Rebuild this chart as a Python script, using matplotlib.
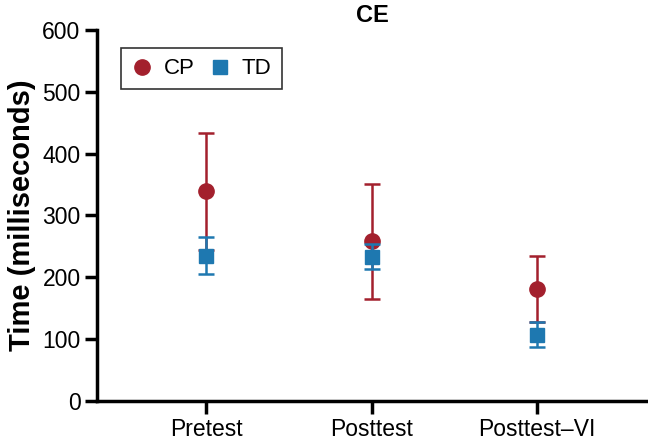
import numpy as np
import matplotlib.pyplot as plt
from matplotlib.lines import Line2D

plt.rcParams['font.family'] = ['Liberation Sans', 'DejaVu Sans']

conditions = ['Pretest', 'Posttest', 'Posttest\u2013VI']
cp_mean = [339, 258, 181]
cp_err = [95, 93, 54]
td_mean = [235, 233, 107]
td_err = [30, 20, 20]

red = '#A3202D'
blue = '#1E78B0'

fig = plt.figure(figsize=(6.48, 4.4), dpi=100)
ax = fig.add_axes([0.15, 0.089, 0.85, 0.843])

x = np.arange(len(conditions))
ax.errorbar(x, cp_mean, yerr=cp_err, fmt='o', color=red, ms=11,
            capsize=6, elinewidth=1.8, capthick=1.8, zorder=2)
ax.errorbar(x, td_mean, yerr=td_err, fmt='s', color=blue, ms=10,
            capsize=6, elinewidth=1.8, capthick=1.8, zorder=3)

ax.set_xlim(-0.657, 2.67)
ax.set_ylim(0, 600)
ax.set_yticks(range(0, 601, 100))
ax.set_xticks(x)
ax.set_xticklabels(conditions)
ax.tick_params(labelsize=16.5, width=2.5, length=9, direction='out', pad=3)
for s in ['top', 'right']:
    ax.spines[s].set_visible(False)
for s in ['left', 'bottom']:
    ax.spines[s].set_linewidth(2.5)

ax.set_ylabel('Time (milliseconds)', fontsize=21, fontweight='bold')
ax.yaxis.set_label_coords(-0.112, 0.5)
ax.set_title('CE', fontsize=17, fontweight='bold', pad=6)

handles = [Line2D([], [], marker='o', ls='none', color=red, ms=11),
           Line2D([], [], marker='s', ls='none', color=blue, ms=10)]
leg = ax.legend(handles, ['CP', 'TD'], loc='upper left',
                bbox_to_anchor=(0.043, 0.95), ncol=2, fontsize=16,
                frameon=True, fancybox=False, handletextpad=0.5,
                columnspacing=0.6, borderpad=0.45, handlelength=1.0,
                borderaxespad=0)
leg.get_frame().set_edgecolor('black')
leg.get_frame().set_linewidth(1.2)

fig.savefig('out.png', dpi=100)
